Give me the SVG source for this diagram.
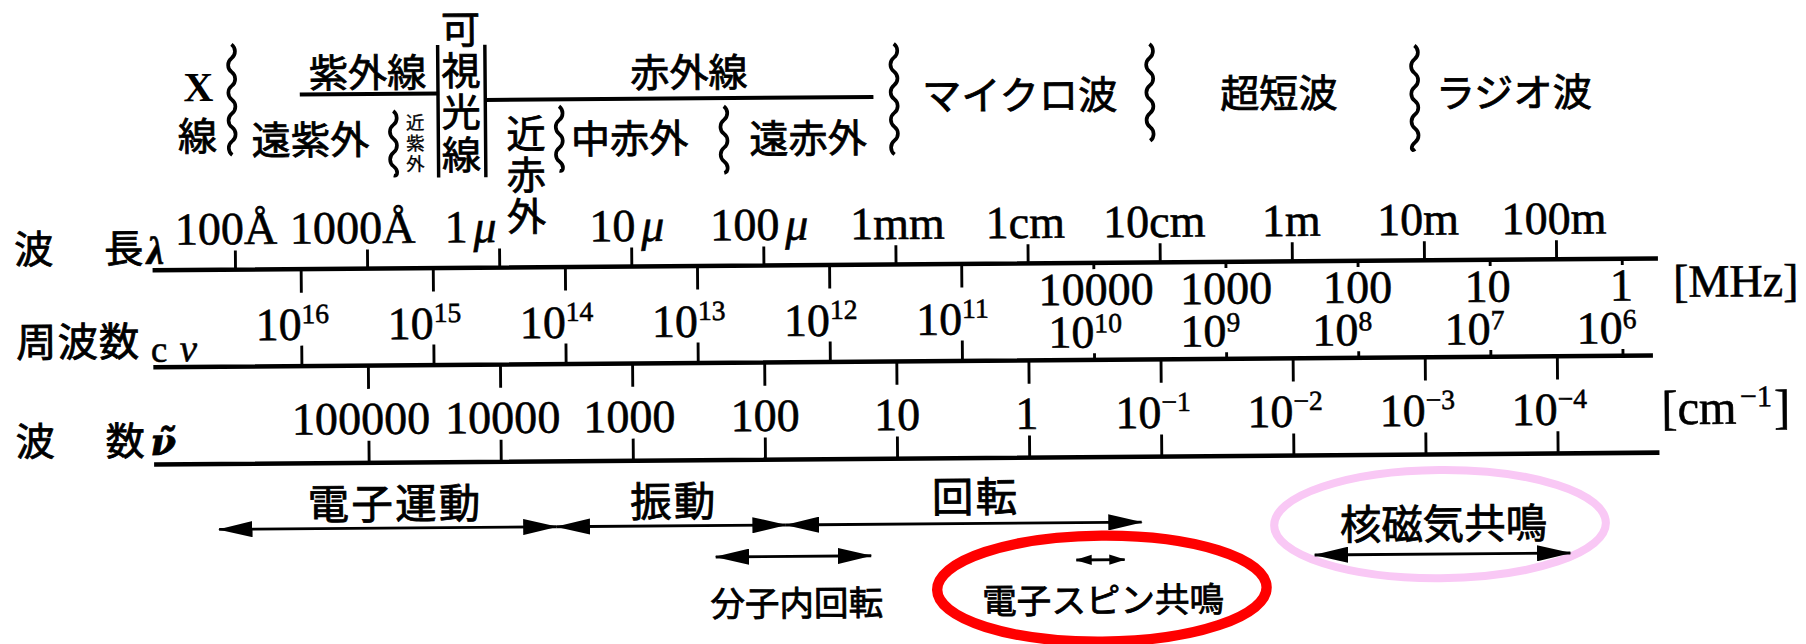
<svg xmlns="http://www.w3.org/2000/svg" width="1806" height="644" viewBox="0 0 1806 644">
<style>
.jp{font-family:"Noto Sans CJK JP","Noto Sans",sans-serif;font-size:34px;fill:#000;stroke:#000;stroke-width:0.7}
.sm{font-size:16px;stroke-width:0.3}
.num{font-family:"Liberation Serif",serif;font-size:40px;fill:#000;stroke:#000;stroke-width:0.5}
.sup{font-size:24px}
.it{font-style:italic}
.ax{stroke:#000;stroke-width:4;fill:none}
.tk{stroke:#000;stroke-width:2.5;fill:none}
.wv{fill:none;stroke:#000;stroke-width:3.2}
.ar{stroke:#000;stroke-width:2.5;fill:none}
</style>
<defs>
<marker id="ah" markerUnits="userSpaceOnUse" viewBox="0 0 30 14" refX="29" refY="7" markerWidth="30" markerHeight="14" orient="auto-start-reverse"><path d="M0,0 L30,7 L0,14 Z" fill="#000"/></marker>
<marker id="ahs" markerUnits="userSpaceOnUse" viewBox="0 0 22 14" refX="21" refY="7" markerWidth="14" markerHeight="10" orient="auto-start-reverse"><path d="M0,0 L22,7 L0,14 Z" fill="#000"/></marker>
</defs>
<rect width="1806" height="644" fill="#fff"/>
<g transform="scale(1.1518) rotate(-0.45 780 300)">

<!-- top band labels -->
<g id="xray">
<text x="174" y="83" text-anchor="middle" style="font-family:'Liberation Serif',serif;font-size:36px;font-weight:bold">X</text>
<text class="jp" x="173" y="126" text-anchor="middle">線</text>
</g>
<g id="uv">
<text class="jp" x="321" y="72" text-anchor="middle">紫外線</text>
<path class="ax" d="M262,78 H383" style="stroke-width:3.5"/>
</g>
<g id="far-uv"><text class="jp" x="271" y="130" text-anchor="middle">遠紫外</text></g>
<g id="near-uv"><text class="jp sm" text-anchor="middle"><tspan x="362" y="109">近</tspan><tspan x="362" y="127">紫</tspan><tspan x="362" y="145">外</tspan></text></g>
<g id="visible">
<path class="tk" d="M382,36 V151 M423,36 V151" style="stroke-width:3"/>
<text class="jp" text-anchor="middle"><tspan x="402" y="35">可</tspan><tspan x="402" y="71">視</tspan><tspan x="402" y="107">光</tspan><tspan x="402" y="144">線</tspan></text>
</g>
<g id="ir">
<text class="jp" x="600" y="74" text-anchor="middle">赤外線</text>
<path class="ax" d="M423,84 H760" style="stroke-width:3.5"/>
</g>
<g id="near-ir"><text class="jp" text-anchor="middle"><tspan x="458" y="126">近</tspan><tspan x="458" y="162">赤</tspan><tspan x="458" y="198">外</tspan></text></g>
<g id="mid-ir"><text class="jp" x="548" y="131" text-anchor="middle">中赤外</text></g>
<g id="far-ir"><text class="jp" x="703" y="132" text-anchor="middle">遠赤外</text></g>
<g id="microwave"><text class="jp" x="887" y="96" text-anchor="middle">マイクロ波</text></g>
<g id="vhf"><text class="jp" x="1112" y="96" text-anchor="middle">超短波</text></g>
<g id="radio"><text class="jp" x="1316" y="97" text-anchor="middle">ラジオ波</text></g>

<!-- wavy separators -->
<g id="separators">
<path class="wv" d="M203,34 c4,3 4,9 0,12 s-4,9 0,12 s4,9 0,12 s-4,9 0,12 s4,9 0,12 s-4,9 0,12 s4,9 0,12 s-4,9 0,12"/>
<path class="wv" d="M343,93 c4,3 4,9 0,12 s-4,9 0,12 s4,9 0,12 s-4,9 0,12 s4,9 0,8"/>
<path class="wv" d="M487,90 c4,3 4,9 0,12 s-4,9 0,12 s4,9 0,12 s-4,9 0,12 s4,9 0,8"/>
<path class="wv" d="M630,91 c4,3 4,9 0,12 s-4,9 0,12 s4,9 0,12 s-4,9 0,12 s4,9 0,10"/>
<path class="wv" d="M778,38 c4,3 4,9 0,12 s-4,9 0,12 s4,9 0,12 s-4,9 0,12 s4,9 0,12 s-4,9 0,12 s4,9 0,12 s-4,9 0,12"/>
<path class="wv" d="M1000,40 c4,3 4,9 0,12 s-4,9 0,12 s4,9 0,12 s-4,9 0,12 s4,9 0,12 s-4,9 0,12 s4,9 0,12"/>
<path class="wv" d="M1230,43 c4,3 4,9 0,12 s-4,9 0,12 s4,9 0,12 s-4,9 0,12 s4,9 0,12 s-4,9 0,12 s4,9 0,12 s-4,9 0,6"/>
</g>

<!-- axes -->
<g id="axes">
<path class="ax" d="M133,229.6 H1440 M133,313.8 H1435 M133,398.2 H1440"/>
<path class="tk" d="M205,229.6V213 M319.7,229.6V213 M434.4,229.6V213 M549.1,229.6V213 M663.8,229.6V213 M778.5,229.6V213 M893.2,229.6V213 M1007.9,229.6V213 M1122.6,229.6V213 M1237.3,229.6V213 M1352,229.6V213"/>
<path class="tk" d="M262,229.6V250 M376.7,229.6V250 M491.4,229.6V250 M606.1,229.6V250 M720.8,229.6V250 M835.5,229.6V250 M262,313.8V296 M376.7,313.8V296 M491.4,313.8V296 M606.1,313.8V296 M720.8,313.8V296 M835.5,313.8V296"/>
<path class="tk" d="M950.2,229.6V235 M1064.9,229.6V235 M1179.6,229.6V235 M1294.3,229.6V235 M1409,229.6V235 M950.2,313.8V308 M1064.9,313.8V308 M1179.6,313.8V308 M1294.3,313.8V308 M1409,313.8V308"/>
<path class="tk" d="M319.7,313.8V334 M434.4,313.8V334 M549.1,313.8V334 M663.8,313.8V334 M778.5,313.8V334 M893.2,313.8V334 M1007.9,313.8V334 M1122.6,313.8V334 M1237.3,313.8V334 M1352,313.8V334 M319.7,398.2V379 M434.4,398.2V379 M549.1,398.2V379 M663.8,398.2V379 M778.5,398.2V379 M893.2,398.2V379 M1007.9,398.2V379 M1122.6,398.2V379 M1237.3,398.2V379 M1352,398.2V379"/>
</g>

<!-- axis titles -->
<g id="title-wavelength"><text class="jp"><tspan x="13" y="223">波</tspan><tspan x="91" y="223">長</tspan><tspan x="128" y="224" class="num it" style="font-weight:bold;font-size:34px">λ</tspan></text></g>
<g id="title-frequency"><text class="jp" style="font-size:35px;letter-spacing:1px"><tspan x="14" y="304">周波数</tspan><tspan x="131" y="309" class="num" style="font-size:32px">c</tspan><tspan x="156" y="309" class="num it" style="font-size:34px">ν</tspan></text></g>
<g id="title-wavenumber"><text class="jp"><tspan x="13" y="390">波</tspan><tspan x="91" y="390">数</tspan><tspan x="130" y="390" style="font-family:'DejaVu Serif',serif;font-style:italic;font-weight:bold;font-size:32px">ν̃</tspan></text></g>

<!-- wavelength labels -->
<g id="wavelength-labels" class="num">
<text x="197" y="207.5" text-anchor="middle">100Å</text>
<text x="307" y="207.5" text-anchor="middle">1000Å</text>
<text x="432" y="207.5" text-anchor="end">1<tspan class="it" dx="5">μ</tspan></text>
<text x="545" y="207.5" text-anchor="middle">10<tspan class="it" dx="5">μ</tspan></text>
<text x="660" y="207.5" text-anchor="middle">100<tspan class="it" dx="5">μ</tspan></text>
<text x="780" y="207.5" text-anchor="middle">1mm</text>
<text x="891" y="207.5" text-anchor="middle">1cm</text>
<text x="1003" y="207.5" text-anchor="middle">10cm</text>
<text x="1122" y="207.5" text-anchor="middle">1m</text>
<text x="1232" y="207.5" text-anchor="middle">10m</text>
<text x="1350" y="207.5" text-anchor="middle">100m</text>
</g>

<!-- frequency labels -->
<g id="frequency-labels" class="num">
<text x="222" y="291">10<tspan class="sup" dy="-14.5">16</tspan></text>
<text x="336.7" y="291">10<tspan class="sup" dy="-14.5">15</tspan></text>
<text x="451.4" y="291">10<tspan class="sup" dy="-14.5">14</tspan></text>
<text x="566.1" y="291">10<tspan class="sup" dy="-14.5">13</tspan></text>
<text x="680.8" y="291">10<tspan class="sup" dy="-14.5">12</tspan></text>
<text x="795.5" y="291">10<tspan class="sup" dy="-14.5">11</tspan></text>
<text x="952" y="266" text-anchor="middle">10000</text>
<text x="1065" y="266" text-anchor="middle">1000</text>
<text x="1179" y="266" text-anchor="middle">100</text>
<text x="1292" y="266" text-anchor="middle">10</text>
<text x="1408" y="266" text-anchor="middle">1</text>
<text x="910.2" y="303">10<tspan class="sup" dy="-13">10</tspan></text>
<text x="1024.9" y="303">10<tspan class="sup" dy="-13">9</tspan></text>
<text x="1139.6" y="303">10<tspan class="sup" dy="-13">8</tspan></text>
<text x="1254.3" y="303">10<tspan class="sup" dy="-13">7</tspan></text>
<text x="1369" y="303">10<tspan class="sup" dy="-13">6</tspan></text>
<text x="1453" y="263">[MHz]</text>
</g>

<!-- wavenumber labels -->
<g id="wavenumber-labels" class="num">
<text x="313" y="373.3" text-anchor="middle">100000</text>
<text x="436" y="373.3" text-anchor="middle">10000</text>
<text x="546" y="373.3" text-anchor="middle">1000</text>
<text x="663.8" y="373.3" text-anchor="middle">100</text>
<text x="778.5" y="373.3" text-anchor="middle">10</text>
<text x="891" y="373.3" text-anchor="middle">1</text>
<text x="968" y="373.3">10<tspan class="sup" dy="-14.5">−1</tspan></text>
<text x="1082.6" y="373.3">10<tspan class="sup" dy="-14.5">−2</tspan></text>
<text x="1197.3" y="373.3">10<tspan class="sup" dy="-14.5">−3</tspan></text>
<text x="1312" y="373.3">10<tspan class="sup" dy="-14.5">−4</tspan></text>
<text x="1442" y="373.5" style="font-size:42px">[cm<tspan class="sup" dx="3" dy="-15" style="font-size:26px">−1</tspan><tspan dx="2" dy="15">]</tspan></text>
</g>

<!-- phenomena labels -->
<g id="electronic"><text class="jp" x="342" y="447" text-anchor="middle" style="font-size:36px;letter-spacing:2px">電子運動</text></g>
<g id="vibration"><text class="jp" x="584" y="447" text-anchor="middle" style="font-size:36px;letter-spacing:2px">振動</text></g>
<g id="rotation"><text class="jp" x="846" y="445" text-anchor="middle" style="font-size:36px;letter-spacing:2px">回転</text></g>
<g id="internal-rotation"><text class="jp" x="690" y="534" text-anchor="middle" style="font-size:30px">分子内回転</text></g>
<g id="esr">
<ellipse cx="955" cy="512.4" rx="143" ry="46" fill="none" stroke="#ff0000" stroke-width="9"/>
<text class="jp" x="956" y="533.4" text-anchor="middle" style="font-size:30px">電子スピン共鳴</text>
</g>
<g id="nmr">
<ellipse cx="1249" cy="458.7" rx="144" ry="47" fill="none" stroke="#f9c8f5" stroke-width="7"/>
<text class="jp" x="1252" y="471.7" text-anchor="middle" style="font-size:36px">核磁気共鳴</text>
</g>

<!-- connectors -->
<g id="connectors">
<path class="ar" d="M189,455 H482" marker-start="url(#ah)" marker-end="url(#ah)"/>
<path class="ar" d="M482,455 H681" marker-start="url(#ah)" marker-end="url(#ah)"/>
<path class="ar" d="M681,455 H990" marker-start="url(#ah)" marker-end="url(#ah)"/>
<path class="ar" d="M620,482.3 H755" marker-start="url(#ah)" marker-end="url(#ah)"/>
<path class="ar" d="M933,487.4 H975" marker-start="url(#ahs)" marker-end="url(#ahs)"/>
<path class="ar" d="M1140,484.7 H1362" marker-start="url(#ah)" marker-end="url(#ah)"/>
</g>
</g>
</svg>
